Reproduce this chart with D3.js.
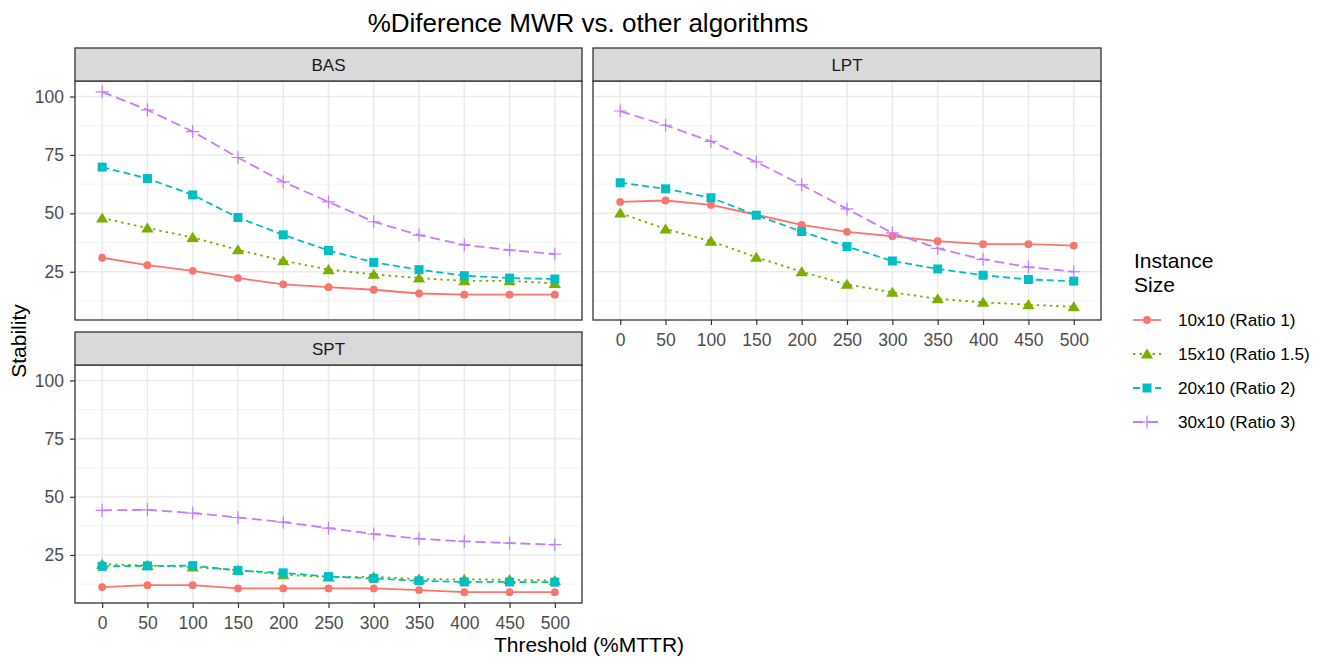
<!DOCTYPE html>
<html><head><meta charset="utf-8">
<script src="https://cdn.jsdelivr.net/npm/d3@7"></script>
<style>body{margin:0;background:#fff;} svg{font-family:"Liberation Sans",Arial,sans-serif;}</style>
</head><body><svg id="c" width="1324" height="660"></svg>
<script>
const thresholds = ["0","50","100","150","200","250","300","350","400","450","500"];
const seriesNames = ["10x10 (Ratio 1)","15x10 (Ratio 1.5)","20x10 (Ratio 2)","30x10 (Ratio 3)"];
const panelNames = ["BAS","LPT","SPT"];
const yTicks = [25,50,75,100];

const bas_10x10 = [31.0,27.8,25.4,22.3,19.6,18.4,17.3,15.7,15.2,15.2,15.2];
const bas_15x10 = [48.0,43.7,39.7,34.4,29.7,25.9,23.9,22.3,21.1,21.1,20.0];
const bas_20x10 = [69.8,64.9,57.9,48.2,40.8,34.1,29.0,25.9,23.3,22.3,21.9];
const bas_30x10 = [102.0,94.3,85.0,73.9,63.5,54.9,46.4,40.7,36.5,34.3,32.6];

const lpt_10x10 = [54.9,55.5,53.6,49.4,45.1,42.1,40.2,38.1,36.8,36.8,36.2];
const lpt_15x10 = [50.1,43.3,38.1,31.2,25.0,19.6,16.2,13.4,11.9,10.9,10.0];
const lpt_20x10 = [63.1,60.5,56.7,49.2,42.2,35.8,29.6,26.2,23.5,21.7,21.0];
const lpt_30x10 = [93.8,87.7,80.8,72.0,62.2,51.9,41.6,35.0,30.3,27.0,25.0];

const spt_10x10 = [11.2,12.0,12.0,10.6,10.6,10.6,10.6,9.9,9.0,9.0,9.0];
const spt_15x10 = [21.0,20.5,19.8,18.5,16.5,15.5,15.6,14.6,14.5,14.4,14.0];
const spt_20x10 = [20.1,20.3,20.4,18.3,17.3,15.7,14.9,13.9,13.4,13.4,13.3];
const spt_30x10 = [44.2,44.4,43.0,41.1,39.1,36.5,34.0,32.0,30.8,30.1,29.4];

const panelData = {
  BAS: [bas_10x10,bas_15x10,bas_20x10,bas_30x10],
  LPT: [lpt_10x10,lpt_15x10,lpt_20x10,lpt_30x10],
  SPT: [spt_10x10,spt_15x10,spt_20x10,spt_30x10]
};

const colors = ["#F8766D","#7CAE00","#00BFC4","#C77CFF"];
const dashes = [null,"2.5,4","7,4","10,5"];
const FONT = "Liberation Sans, Arial, sans-serif";

const svg = d3.select("#c");

const panels = {
  BAS: {x0:75, x1:582, st:48, sb:81, pb:320, xAxis:false, yAxis:true},
  LPT: {x0:593, x1:1101, st:48, sb:81, pb:320, xAxis:true, yAxis:false},
  SPT: {x0:75, x1:582, st:332, sb:365, pb:603, xAxis:true, yAxis:true}
};

const allVals = panelNames.flatMap(p => panelData[p].flat());
const [mn, mx] = d3.extent(allVals);
const pad = (mx - mn) * 0.05;

function shape(g, i, x, y, c) {
  if (i === 0) {
    g.append("circle").attr("cx",x).attr("cy",y).attr("r",3.9).attr("fill",c);
  } else if (i === 1) {
    const s = 5.6;
    g.append("path").attr("d",`M${x},${y-s}L${x+s*1.1},${y+s*0.8}L${x-s*1.1},${y+s*0.8}Z`).attr("fill",c);
  } else if (i === 2) {
    const s = 4.5;
    g.append("rect").attr("x",x-s).attr("y",y-s).attr("width",2*s).attr("height",2*s).attr("fill",c);
  } else {
    const s = 6.5;
    g.append("path").attr("d",`M${x-s},${y}H${x+s}M${x},${y-s}V${y+s}`).attr("stroke",c).attr("stroke-width",1.2).attr("fill","none");
  }
}

panelNames.forEach(name => {
  const P = panels[name];
  const x = d3.scalePoint().domain(thresholds).range([P.x0, P.x1]).padding(0.6);
  const y = d3.scaleLinear().domain([mn - pad, mx + pad]).range([P.pb, P.sb]);
  const g = svg.append("g");

  g.append("rect").attr("x",P.x0).attr("y",P.sb).attr("width",P.x1-P.x0).attr("height",P.pb-P.sb).attr("fill","#fff");
  const minor = [12.5,37.5,62.5,87.5];
  g.selectAll(".mn").data(minor).enter().append("line")
    .attr("x1",P.x0).attr("x2",P.x1).attr("y1",d=>y(d)).attr("y2",d=>y(d))
    .attr("stroke","#F0F0F0").attr("stroke-width",0.9);
  g.selectAll(".mj").data(yTicks).enter().append("line")
    .attr("x1",P.x0).attr("x2",P.x1).attr("y1",d=>y(d)).attr("y2",d=>y(d))
    .attr("stroke","#EBEBEB").attr("stroke-width",1.6);
  g.selectAll(".vx").data(thresholds).enter().append("line")
    .attr("x1",d=>x(d)).attr("x2",d=>x(d)).attr("y1",P.sb).attr("y2",P.pb)
    .attr("stroke","#EBEBEB").attr("stroke-width",1.6);

  panelData[name].forEach((vals, i) => {
    const line = d3.line().x((d,j)=>x(thresholds[j])).y(d=>y(d));
    const p = g.append("path").datum(vals).attr("d",line).attr("fill","none")
      .attr("stroke",colors[i]).attr("stroke-width",1.8);
    if (dashes[i]) p.attr("stroke-dasharray",dashes[i]);
  });
  panelData[name].forEach((vals, i) => {
    vals.forEach((v,j) => shape(g, i, x(thresholds[j]), y(v), colors[i]));
  });

  g.append("rect").attr("x",P.x0).attr("y",P.sb).attr("width",P.x1-P.x0).attr("height",P.pb-P.sb)
    .attr("fill","none").attr("stroke","#333").attr("stroke-width",1.3);
  g.append("rect").attr("x",P.x0).attr("y",P.st).attr("width",P.x1-P.x0).attr("height",P.sb-P.st)
    .attr("fill","#D9D9D9").attr("stroke","#333").attr("stroke-width",1.3);
  g.append("text").attr("x",(P.x0+P.x1)/2).attr("y",(P.st+P.sb)/2+6).attr("text-anchor","middle")
    .attr("font-size",17).attr("fill","#1A1A1A").text(name);

  if (P.yAxis) {
    const ax = d3.axisLeft(y).tickValues(yTicks).tickSize(5).tickPadding(6);
    const a = g.append("g").attr("transform",`translate(${P.x0},0)`).call(ax);
    a.select(".domain").remove();
    a.selectAll("line").attr("stroke","#333").attr("stroke-width",1.2);
    a.selectAll("text").attr("font-size",17.5).attr("fill","#4D4D4D").attr("font-family",FONT);
  }
  if (P.xAxis) {
    const ax = d3.axisBottom(x).tickSize(5).tickPadding(9);
    const a = g.append("g").attr("transform",`translate(0,${P.pb})`).call(ax);
    a.select(".domain").remove();
    a.selectAll("line").attr("stroke","#333").attr("stroke-width",1.2);
    a.selectAll("text").attr("font-size",17.5).attr("fill","#4D4D4D").attr("font-family",FONT);
  }
});

svg.append("text").attr("x",588).attr("y",32).attr("text-anchor","middle").attr("font-size",26).attr("fill","#000")
  .text("%Diference MWR vs. other algorithms");
svg.append("text").attr("x",589).attr("y",652).attr("text-anchor","middle").attr("font-size",21).attr("fill","#000")
  .text("Threshold (%MTTR)");
svg.append("text").attr("transform","translate(26,341) rotate(-90)").attr("text-anchor","middle").attr("font-size",21).attr("fill","#000")
  .text("Stability");

const lg = svg.append("g");
lg.append("text").attr("x",1134).attr("y",268).attr("font-size",21).attr("fill","#000").text("Instance");
lg.append("text").attr("x",1134).attr("y",292).attr("font-size",21).attr("fill","#000").text("Size");
seriesNames.forEach((s,i) => {
  const yy = 320 + i*34;
  const l = lg.append("line").attr("x1",1133).attr("x2",1161).attr("y1",yy).attr("y2",yy)
    .attr("stroke",colors[i]).attr("stroke-width",1.8);
  if (dashes[i]) l.attr("stroke-dasharray",dashes[i]);
  shape(lg, i, 1147, yy, colors[i]);
  lg.append("text").attr("x",1178).attr("y",yy+6).attr("font-size",17.2).attr("fill","#000").text(s);
});
</script></body></html>
